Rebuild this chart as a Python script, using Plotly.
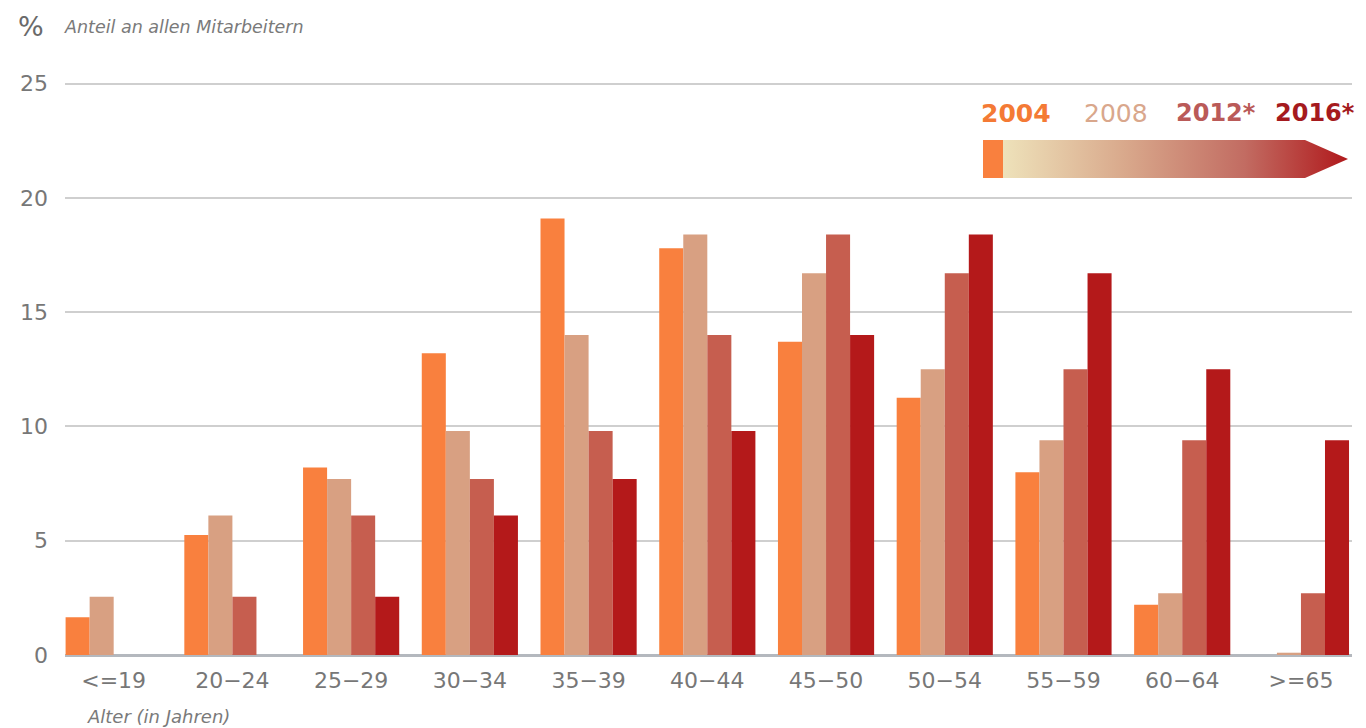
import plotly.graph_objects as go

# Age groups and share of all employees (%) per survey year
age_groups = ["<=19", "20\u221224", "25\u221229", "30\u221234", "35\u221239", "40\u221244",
              "45\u221250", "50\u221254", "55\u221259", "60\u221264", ">=65"]
share_2004 = [1.65, 5.25, 8.2, 13.2, 19.1, 17.8, 13.7, 11.25, 8.0, 2.2, 0.0]
share_2008 = [2.55, 6.1, 7.7, 9.8, 14.0, 18.4, 16.7, 12.5, 9.4, 2.7, 0.1]
share_2012 = [0.0, 2.55, 6.1, 7.7, 9.8, 14.0, 18.4, 16.7, 12.5, 9.4, 2.7]
share_2016 = [0.0, 0.0, 2.55, 6.1, 7.7, 9.8, 14.0, 18.4, 16.7, 12.5, 9.4]

years = ["2004", "2008", "2012*", "2016*"]
bar_colors = ["#F9803E", "#D8A082", "#C65E4F", "#B4191A"]
label_colors = ["#F47A35", "#D9A78C", "#BA5A58", "#A51A1E"]

FONT = "DejaVu Sans"
GREY = "#7a7a7a"

# Plot area in pixels, used to place key and captions
L, R, T, B = 65, 1352, 79, 655


def px(x):
    return (x - L) / (R - L)


def py(y):
    return (B - y) / (B - T)


fig = go.Figure()
for name, vals, col in zip(years, [share_2004, share_2008, share_2012, share_2016], bar_colors):
    fig.add_trace(go.Bar(x=age_groups, y=vals, name=name, marker=dict(color=col, line=dict(width=0)),
                         showlegend=False, cliponaxis=False))

# Gradient arrow of the year key, drawn on a pixel-based overlay axis
arrow_x = [1003, 1305, 1348, 1305, 1003, 1003]
arrow_y = [728 - 140, 728 - 140, 728 - 159, 728 - 178, 728 - 178, 728 - 140]
fig.add_trace(go.Scatter(
    x=arrow_x, y=arrow_y, xaxis="x2", yaxis="y2", mode="lines", line=dict(width=0),
    fill="toself", fillgradient=dict(type="horizontal",
                                     colorscale=[[0, "#EEE2BA"], [0.35, "#D9A98C"],
                                                 [0.7, "#C26C62"], [1, "#B0191C"]]),
    hoverinfo="skip", showlegend=False))
fig.add_trace(go.Scatter(
    x=[983, 1003, 1003, 983, 983], y=[728 - 140, 728 - 140, 728 - 178, 728 - 178, 728 - 140],
    xaxis="x2", yaxis="y2", mode="lines", line=dict(width=0), fill="toself",
    fillcolor="#F9803E", hoverinfo="skip", showlegend=False))

annotations = []
for name, col, cx, bold, size in zip(years, label_colors, [1016, 1116, 1216, 1315],
                                     [True, False, True, True], [25, 25, 24, 24]):
    annotations.append(dict(x=px(cx), y=py(113), xref="paper", yref="paper", showarrow=False,
                            xanchor="center", yanchor="middle",
                            text=f"<b>{name}</b>" if bold else name,
                            font=dict(family=FONT, size=size, color=col)))
annotations += [
    dict(x=px(31), y=py(26), xref="paper", yref="paper", showarrow=False, text="%",
         xanchor="center", yanchor="middle", font=dict(family=FONT, size=27, color="#6a6a6a")),
    dict(x=px(62), y=py(27), xref="paper", yref="paper", showarrow=False, xanchor="left",
         yanchor="middle", text="<i>Anteil an allen Mitarbeitern</i>",
         font=dict(family=FONT, size=17.5, color=GREY)),
    dict(x=px(85), y=py(716), xref="paper", yref="paper", showarrow=False, xanchor="left",
         yanchor="middle", text="<i>Alter (in Jahren)</i>",
         font=dict(family=FONT, size=18, color=GREY)),
]

fig.update_layout(
    width=1366, height=728,
    margin=dict(l=L, r=1366 - R, t=T, b=728 - B),
    paper_bgcolor="white", plot_bgcolor="white",
    barmode="group", bargap=0.19, bargroupgap=0,
    font=dict(family=FONT, color=GREY),
    xaxis=dict(range=[-0.41, 10.43], showgrid=False, zeroline=False, showline=False,
               ticks="", tickfont=dict(size=22, color="#777777"), ticklabelstandoff=10),
    yaxis=dict(range=[0, 25.2], tickvals=[0, 5, 10, 15, 20, 25], showgrid=True,
               gridcolor="#cfcfcf", gridwidth=1.5, zeroline=True, zerolinecolor="#b4b8be",
               zerolinewidth=2.5, ticks="", tickfont=dict(size=22, color="#777777"),
               ticklabelstandoff=16),
    # overlay axes map one unit to one pixel of the plot area
    xaxis2=dict(range=[L, R], overlaying="x", anchor="y2", visible=False),
    yaxis2=dict(range=[728 - B, 728 - T], overlaying="y", anchor="x2", visible=False),
    annotations=annotations,
)

fig.write_html("out.html")
